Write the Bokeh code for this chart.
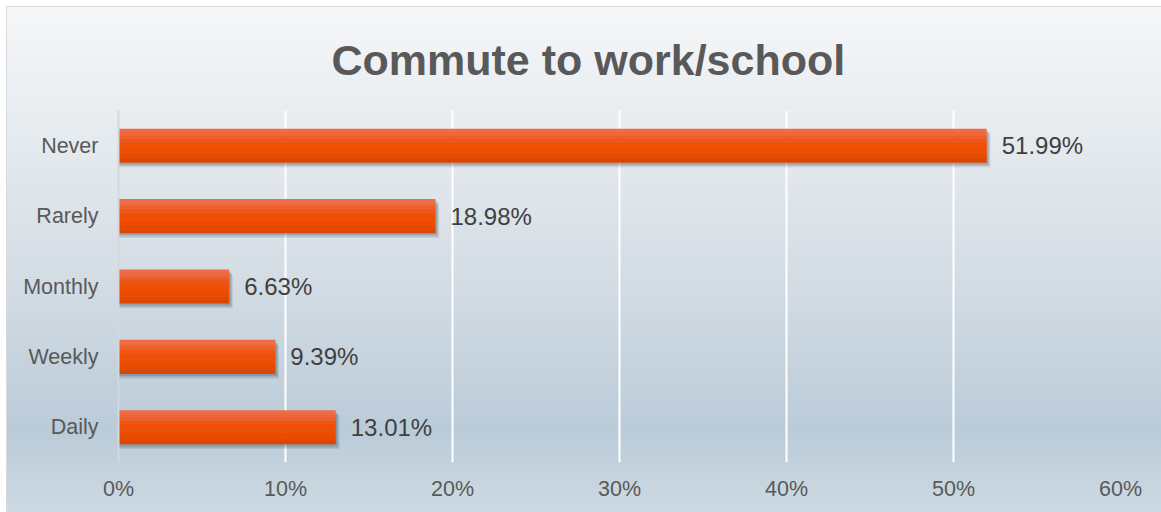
from bokeh.plotting import figure
from bokeh.models import FactorRange, Range1d, FixedTicker, PrintfTickFormatter, ColumnDataSource, Title
from bokeh.transform import dodge
from bokeh.core.properties import value
from bokeh.embed import file_html
from bokeh.resources import INLINE

categories = ["Never", "Rarely", "Monthly", "Weekly", "Daily"]
percent = [51.99, 18.98, 6.63, 9.39, 13.01]
x_ticks = [0, 10, 20, 30, 40, 50, 60]
title_text = "Commute to work/school"

labels = ["%.2f%%" % v for v in percent]
src = ColumnDataSource(dict(cat=categories, val=percent, lab=labels))

FONT = "Liberation Sans"
BAR_H = 0.48
# bar shading, top to bottom
SHADES = ["#ee6d47", "#ef673c", "#f05e2a", "#f05518", "#f04f06", "#f04e00", "#ee4d00", "#ea4b00", "#e44900", "#dc4600"]

p = figure(width=1155, height=506, output_backend="svg", toolbar_location=None,
           y_range=FactorRange(factors=list(reversed(categories))),
           x_range=Range1d(0, 60),
           min_border_left=112, min_border_right=41, min_border_top=103, min_border_bottom=50)
p.styles = {"background": "linear-gradient(to bottom, #f6f7f9 0%, #e6ebef 25%, #d3dce4 55%, #bacbd8 84%, #cedae3 100%)",
            "box-shadow": "inset 1px 1px 0 #d9d9d9",
            "margin-left": "6px", "margin-top": "6px"}
p.border_fill_color = None
p.background_fill_color = None
p.outline_line_color = None

p.title = Title(text=title_text, align="left", offset=213, standoff=54,
                text_font=FONT, text_font_size="43px", text_font_style="bold", text_color="#595959")

# soft shadow
for dy, dx, a in [(-0.07, 0.22, 0.12), (-0.05, 0.16, 0.16), (-0.03, 0.10, 0.2)]:
    p.hbar(y=dodge("cat", dy, range=p.y_range), left=0, right=dodge("val", dx), height=BAR_H, source=src,
           fill_color="#3c4a58", fill_alpha=a, line_color=None)

# bar with vertical shading
n = len(SHADES)
sh = BAR_H / n
for i, c in enumerate(SHADES):
    off = BAR_H / 2 - sh * (i + 0.5)
    p.hbar(y=dodge("cat", off, range=p.y_range), left=0, right="val", height=sh * 1.08, source=src,
           fill_color=c, line_color=None)

p.text(x="val", y="cat", text="lab", source=src, x_offset=15, text_baseline="middle",
       text_font=value(FONT), text_font_size="24px", text_color="#404040")

p.xaxis.ticker = FixedTicker(ticks=x_ticks)
p.xaxis.formatter = PrintfTickFormatter(format="%d%%")
for ax in (p.xaxis, p.yaxis):
    ax.major_tick_line_color = None
    ax.minor_tick_line_color = None
    ax.major_label_text_font = FONT
    ax.major_label_text_font_size = "21.5px"
    ax.major_label_text_color = "#595959"
p.xaxis.axis_line_color = None
p.xaxis.major_label_standoff = 8
p.yaxis.axis_line_color = "#d4d8dc"
p.yaxis.axis_line_width = 2
p.yaxis.major_label_standoff = 14

p.xgrid.ticker = FixedTicker(ticks=x_ticks[1:])
p.xgrid.grid_line_color = "#ffffff"
p.xgrid.grid_line_width = 2
p.ygrid.grid_line_color = None

open("out.html", "w").write(file_html(p, INLINE))
